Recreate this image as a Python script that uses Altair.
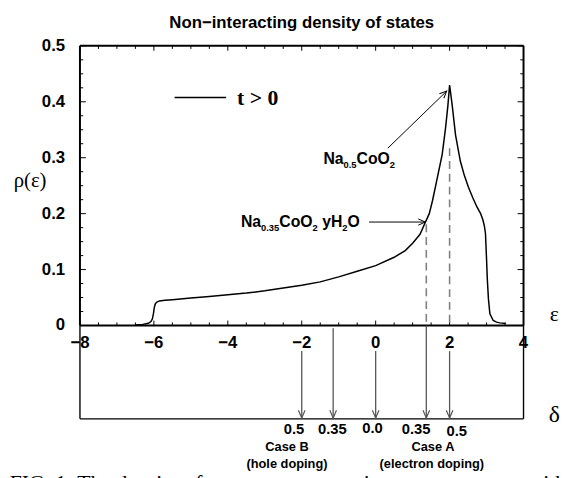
import altair as alt
import pandas as pd

# ---------------- data ----------------
eps = [-6.5, -6.3, -6.15, -6.08, -6.04, -6.01, -5.99, -5.96, -5.92, -5.85, -5.7, -5.5,
       -5.0, -4.5, -4.0, -3.5, -3.0, -2.5, -2.0, -1.5, -1.0, -0.5, 0.0, 0.5, 0.8, 1.0,
       1.2, 1.32, 1.45, 1.54, 1.67, 1.8, 1.89, 1.955, 2.0, 2.07, 2.16, 2.29, 2.4, 2.51,
       2.63, 2.74, 2.84, 2.9, 2.94, 2.97, 3.0, 3.02, 3.05, 3.09, 3.18, 3.27, 3.36, 3.52]
rho = [0.001, 0.002, 0.004, 0.007, 0.012, 0.022, 0.032, 0.039, 0.042, 0.044, 0.045, 0.046,
       0.049, 0.052, 0.055, 0.058, 0.062, 0.067, 0.072, 0.078, 0.087, 0.097, 0.107, 0.122,
       0.134, 0.147, 0.163, 0.181, 0.200, 0.224, 0.265, 0.306, 0.353, 0.394, 0.430, 0.394,
       0.341, 0.294, 0.268, 0.247, 0.228, 0.212, 0.200, 0.189, 0.178, 0.165, 0.118, 0.083,
       0.048, 0.021, 0.009, 0.006, 0.0047, 0.0035]

x_major = [-8, -6, -4, -2, 0, 2, 4]
x_labels = ["\u22128", "\u22126", "\u22124", "\u22122", "0", "2", "4"]
x_minor = [-7.5, -7, -6.5, -5.5, -5, -4.5, -3.5, -3, -2.5, -1.5, -1, -0.5,
           0.5, 1, 1.5, 2.5, 3, 3.5]
y_major = [0, 0.1, 0.2, 0.3, 0.4, 0.5]
y_labels = ["0", "0.1", "0.2", "0.3", "0.4", "0.5"]
y_minor = [0.025, 0.05, 0.075, 0.125, 0.15, 0.175, 0.225, 0.25, 0.275,
           0.325, 0.35, 0.375, 0.425, 0.45, 0.475]

# doping markers (energy positions) and their delta labels
dope_eps = [-2.0, -1.15, 0.0, 1.37, 2.0]
dope_labels = ["0.5", "0.35", "0.0", "0.35", "0.5"]
dope_label_eps = [-2.21, -1.17, -0.085, 1.096, 2.195]
dope_label_rho = [-0.185, -0.185, -0.1828, -0.185, -0.1886]
dope_top = [-0.0458, -0.005, -0.0458, 0.0, -0.0458]
dashed_eps = [1.37, 2.0]
dashed_top = [0.181, 0.317]

YMIN = -0.1669
TIP = -0.1655

xs = alt.Scale(domain=[-8, 4], nice=False, zero=False)
ys = alt.Scale(domain=[YMIN, 0.5], nice=False, zero=False)

SANS = "Liberation Sans"
SERIF = "Liberation Serif"


def X(f="x"):
    return alt.X(f"{f}:Q", scale=xs, axis=None)


def Y(f="y"):
    return alt.Y(f"{f}:Q", scale=ys, axis=None)


def rules(rows, **kw):
    df = pd.DataFrame(rows, columns=["x", "y", "x2", "y2"])
    return alt.Chart(df).mark_rule(**kw).encode(
        x=X(), y=Y(), x2=alt.X2("x2:Q"), y2=alt.Y2("y2:Q"))


def texts(xv, yv, tv, **kw):
    df = pd.DataFrame({"x": xv, "y": yv, "t": tv})
    return alt.Chart(df).mark_text(**kw).encode(x=X(), y=Y(), text="t:N")


layers = []

# caption of the paper (cut off at the bottom)
layers.append(texts([-9.9], [-0.2950],
                    ["FIG. 1: The density of states for the non-interacting system with t > 0"],
                    font=SERIF, fontSize=22, align="left", baseline="alphabetic", color="black"))
# white patches where the figure labels cover the caption
patch = pd.DataFrame({"x": [-3.35, 0.3], "x2": [-1.4, 2.75], "y": [-0.24, -0.24], "y2": [-0.30, -0.30]})
layers.append(alt.Chart(patch).mark_rect(color="white").encode(
    x=X(), x2=alt.X2("x2:Q"), y=Y(), y2=alt.Y2("y2:Q")))

# curve
curve = pd.DataFrame({"x": eps, "y": rho})
layers.append(alt.Chart(curve).mark_line(color="black", strokeWidth=1.5).encode(x=X(), y=Y()))

# frame
layers.append(rules([(-8, 0.5, 4, 0.5), (-8, 0, -8, 0.5), (4, 0, 4, 0.5), (-8, 0, 4, 0)],
                    color="black", strokeWidth=2))
layers.append(rules([(-8, YMIN, -8, 0), (4, YMIN, 4, 0), (-8, YMIN, 4, YMIN)],
                    color="black", strokeWidth=1.4))

# ticks
tk = []
for t in x_major:
    tk += [(t, 0, t, 0.0088), (t, 0.5, t, 0.5 - 0.0088)]
for t in x_minor:
    tk += [(t, 0, t, 0.0055), (t, 0.5, t, 0.5 - 0.0055)]
for t in y_major:
    tk += [(-8, t, -8 + 0.16, t), (4, t, 4 - 0.16, t)]
for t in y_minor:
    tk += [(-8, t, -8 + 0.088, t), (4, t, 4 - 0.088, t)]
layers.append(rules(tk, color="black", strokeWidth=1))

# tick labels
layers.append(texts(x_major, [-0.0317] * len(x_major), x_labels,
                    font=SANS, fontSize=17, fontWeight="bold", align="center", baseline="middle"))
layers.append(texts([-8.4] * len(y_major), y_major, y_labels,
                    font=SANS, fontSize=17, fontWeight="bold", align="right", baseline="middle"))

# axis titles and chart title
layers.append(texts([-9.35], [0.259], ["\u03c1(\u03b5)"], font=SERIF, fontSize=21,
                    align="center", baseline="middle"))
layers.append(texts([4.835], [0.0211], ["\u03b5"], font=SERIF, fontSize=22,
                    align="center", baseline="middle"))
layers.append(texts([4.835], [-0.160], ["\u03b4"], font=SERIF, fontSize=24,
                    align="center", baseline="middle"))
layers.append(texts([-2.0], [0.541], ["Non\u2212interacting density of states"], font=SANS,
                    fontSize=17, fontWeight="bold", align="center", baseline="middle"))

# legend
layers.append(rules([(-5.44, 0.4076, -4.045, 0.4076)], color="black", strokeWidth=1.5))
layers.append(texts([-3.75], [0.4060], ["t > 0"], font=SERIF, fontSize=22, fontWeight="bold",
                    align="left", baseline="middle"))

# dashed guide lines
layers.append(rules([(e, t, e, 0) for e, t in zip(dashed_eps, dashed_top)],
                    color="#808080", strokeWidth=1.6, strokeDash=[8, 5]))

# doping arrows in the lower panel
layers.append(rules([(e, t, e, TIP) for e, t in zip(dope_eps, dope_top)],
                    color="#555555", strokeWidth=1.3))
heads = pd.DataFrame({"x": dope_eps, "y": [TIP] * len(dope_eps)})
layers.append(alt.Chart(heads).mark_point(
    shape="M-0.42,-1 L0,0 L0.42,-1", size=256, filled=False, color="#555555", strokeWidth=1.2,
    opacity=1).encode(x=X(), y=Y()))

layers.append(texts(dope_label_eps, dope_label_rho, dope_labels,
                    font=SANS, fontSize=15, fontWeight="bold", align="center", baseline="middle"))
layers.append(texts([-2.4, -2.4, 1.55, 1.52], [-0.218, -0.248, -0.218, -0.248],
                    ["Case B", "(hole doping)", "Case A", "(electron doping)"],
                    font=SANS, fontSize=13, fontWeight="bold", align="center", baseline="middle"))

# annotation arrows
layers.append(rules([(0.328, 0.317, 1.92, 0.419), (-0.179, 0.185, 1.341, 0.185)],
                    color="black", strokeWidth=1))
ah = pd.DataFrame({"x": [1.92, 1.341], "y": [0.419, 0.185], "a": [316, 0]})
layers.append(alt.Chart(ah).mark_point(
    shape="M-1,-0.45 L0,0 L-1,0.45", size=200, filled=False, color="black", strokeWidth=1,
    opacity=1).encode(x=X(), y=Y(), angle=alt.Angle("a:Q", scale=None)))

# annotation labels with subscripts
layers.append(texts([-1.413, -0.517], [0.289, 0.289], ["Na", "CoO"],
                    font=SANS, fontSize=16, fontWeight="bold", align="left", baseline="alphabetic"))
layers.append(texts([-0.869, 0.384], [0.282, 0.282], ["0.5", "2"],
                    font=SANS, fontSize=9.5, fontWeight="bold", align="left", baseline="alphabetic"))
layers.append(texts([-3.645, -2.608, -1.448, -0.763], [0.1762] * 4, ["Na", "CoO", "yH", "O"],
                    font=SANS, fontSize=16, fontWeight="bold", align="left", baseline="alphabetic"))
layers.append(texts([-3.101, -1.707, -0.904], [0.1692] * 3, ["0.35", "2", "2"],
                    font=SANS, fontSize=9.5, fontWeight="bold", align="left", baseline="alphabetic"))

chart = alt.layer(*layers).properties(
    width=450, height=378.4,
    autosize=alt.AutoSizeParams(type="none"),
    padding={"left": 73, "top": 35, "right": 37, "bottom": 56.6},
    background="white",
).configure_view(strokeWidth=0)

chart.save("out.html", embed_options={"renderer": "svg", "actions": False})
